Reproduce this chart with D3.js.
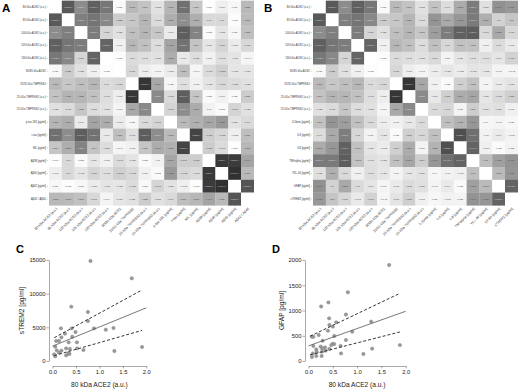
<!DOCTYPE html>
<html>
<head>
<meta charset="utf-8">
<script src="https://cdn.jsdelivr.net/npm/d3@7"></script>
<style>
  body { margin: 0; background: #fff; }
  svg { display: block; font-family: "Liberation Sans", Arial, sans-serif; }
</style>
</head>
<body>
<svg id="fig" width="520" height="390"></svg>
<script>
// labels shared by both matrices
const markerLabels = ["80 kDa ACE2 (a.u.)", "85 kDa ACE2 (a.u.)", "100 kDa ACE2 (a.u.)", "105 kDa ACE2 (a.u.)",
  "130 kDa ACE2 (a.u.)", "80/85 kDa ACE2", "25/55 kDa TMPRSS2", "25 kDa TMPRSS2 (a.u.)", "55 kDa TMPRSS2 (a.u.)"];
const csfLabels = ["p-tau 181 [pg/ml]", "t-tau [pg/ml]", "NfL [pg/ml]", "Aβ38 [pg/ml]", "Aβ40 [pg/ml]", "Aβ42 [pg/ml]", "Aβ42 / Aβ40"];
const bloodLabels = ["IL1beta [pg/ml]", "IL6 [pg/ml]", "IL8 [pg/ml]", "TNFalpha [pg/ml]", "YKL-40 [pg/ml]", "GFAP [pg/ml]", "sTREM2 [pg/ml]"];

// lower triangles (row i holds correlations with rows 0..i-1)
const markerCorr = [
  [],
  [0.737],
  [0.511, 0.568],
  [0.706, 0.612, 0.581],
  [0.603, 0.529, 0.186, 0.687],
  [0.026, 0.225, 0.132, 0.066, 0.012],
  [0.312, 0.248, 0.286, 0.322, 0.16, 0.178],
  [0.266, 0.329, 0.323, 0.276, 0.148, 0.075, 0.897],
  [0.132, 0.162, 0.255, 0.152, 0.133, 0.048, 0.387, 0.525]
];
const csfVsMarker = [
  [0.327, 0.361, 0.091, 0.403, 0.363, -0.089, 0.038, 0.163, 0.192],
  [0.637, 0.507, 0.714, 0.625, 0.096, 0.286, 0.143, 0.719, 0.507],
  [0.254, 0.362, 0.550, 0.264, 0.153, -0.044, 0.063, 0.256, 0.367],
  [0.007, 0.17, 0.022, 0.111, 0.062, -0.161, -0.121, 0.022, 0.060],
  [-0.069, 0.170, -0.115, 0.188, -0.142, -0.213, -0.173, 0.061, 0.023],
  [0.034, 0.013, 0.036, -0.087, -0.120, -0.113, -0.155, 0.025, 0.192],
  [0.313, 0.308, 0.278, 0.175, -0.044, 0.115, 0.132, 0.225, 0.132]
];
const csfCorr = [
  [],
  [0.308],
  [0.351, 0.831],
  [0.397, -0.216, -0.224],
  [0.453, -0.183, -0.161, 0.88],
  [0.128, -0.073, -0.009, 0.871, 0.914],
  [0.164, 0.289, 0.318, 0.404, 0.311, 0.757]
];
const bloodVsMarker = [
  [0.271, 0.477, 0.429, 0.281, 0.171, -0.079, 0.061, 0.101, 0.164],
  [0.149, 0.377, 0.576, 0.180, 0.054, -0.112, 0.022, 0.215, 0.179],
  [0.373, 0.462, 0.701, 0.275, 0.121, -0.083, 0.209, 0.369, 0.051],
  [0.586, 0.589, 0.721, 0.272, 0.142, -0.118, 0.275, 0.397, 0.224],
  [0.137, 0.357, 0.167, 0.068, 0.148, -0.112, 0.05, 0.112, 0.131],
  [0.490, 0.2, 0.383, 0.160, 0.114, 0.048, 0.093, 0.162, 0.136],
  [0.459, 0.260, 0.178, 0.093, 0.198, -0.043, 0.118, 0.213, 0.068]
];
const bloodCorr = [
  [],
  [0.278],
  [0.338, 0.782],
  [0.464, 0.641, 0.694],
  [0.040, -0.060, -0.066, 0.290],
  [0.048, 0.094, 0.023, 0.421, 0.308],
  [0.036, -0.059, 0.055, 0.479, 0.467, 0.692]
];

// scatter C and D: 80 kDa ACE2 vs sTREM2 / GFAP
const aceC = [0.81, 1.69, 0.40, 0.755, 0.755, 0.18, 0.41, 0.885, 1.137, 1.30, 0.266, 0.49, 0.42, 0.19, 0.08, 0.14,
  0.52, 0.345, 0.058, 0.29, 0.525, 0.37, 0.09, 0.19, 0.66, 1.91, 1.32, 0.14, 0.34, 0.036, 0.29, 0.058, 0.36];
const strem2 = [14850, 12280, 8070, 7280, 5940, 4850, 4850, 4850, 4650, 4900, 4060, 4300, 3610, 3510, 2970, 2970,
  2770, 2770, 2130, 1880, 1880, 1780, 1580, 1530, 1630, 2080, 1480, 1240, 1140, 990, 840, 690, 1040];
const fitC = [[0, 2200], [2.0, 7900]];
const ciUpperC = [[0.036, 3450], [1.91, 10550]];
const ciLowerC = [[0.036, 800], [1.91, 4550]];

const aceD = [1.66, 0.81, 0.41, 0.26, 0.77, 0.425, 0.57, 0.43, 0.5, 0.40, 0.90, 1.29, 0.53, 0.07, 0.10, 0.21, 0.77,
  0.29, 0.5, 0.53, 0.66, 0.10, 0.25, 0.34, 0.28, 0.47, 0.16, 0.17, 0.43, 1.88, 1.31, 0.28, 0.09, 0.16, 0.27, 0.67,
  1.13, 0.07, 0.35];
const gfap = [1900, 1360, 1160, 1080, 920, 845, 765, 713, 680, 600, 580, 780, 495, 480, 480, 515, 415,
  400, 340, 335, 300, 297, 285, 270, 250, 315, 230, 180, 240, 315, 245, 185, 150, 100, 100, 150,
  140, 80, 205];
const fitD = [[0, 300], [2.0, 985]];
const ciUpperD = [[0.03, 490], [1.88, 1340]];
const ciLowerD = [[0.03, 120], [1.88, 575]];

const xTicks = [0, 0.5, 1, 1.5, 2];
const yTicksC = [0, 5000, 10000, 15000];
const yTicksD = [0, 500, 1000, 1500, 2000];

const svg = d3.select("#fig");

function buildMatrix(rowsTop, cross, rowsBottom) {
  const n = rowsTop.length + rowsBottom.length;
  const m = d3.range(n).map(() => d3.range(n).map(() => null));
  rowsTop.forEach((row, i) => row.forEach((v, j) => { m[i][j] = v; m[j][i] = v; }));
  cross.forEach((row, i) => row.forEach((v, j) => { m[9 + i][j] = v; m[j][9 + i] = v; }));
  rowsBottom.forEach((row, i) => row.forEach((v, j) => { m[9 + i][9 + j] = v; m[9 + j][9 + i] = v; }));
  return m;
}

function stars(r) {
  const a = Math.abs(r);
  return a >= 0.58 ? "***" : a >= 0.48 ? "**" : a >= 0.37 ? "*" : "";
}

const fill = d3.scaleLinear().domain([0, 1]).range(["#ffffff", "#1e1e1e"]).clamp(true);
const fmt = d3.format(".3~f");

function drawMatrix(left, labels, matrix, letter, letterX) {
  const n = labels.length;
  const x = d3.scaleBand().domain(d3.range(n)).range([left, left + 204.8]);
  const y = d3.scaleBand().domain(d3.range(n)).range([0.6, 205.4]);
  const g = svg.append("g");

  const cells = [];
  matrix.forEach((row, i) => row.forEach((v, j) => cells.push({ i, j, v })));

  g.selectAll("rect").data(cells).enter().append("rect")
    .attr("x", d => x(d.j))
    .attr("y", d => y(d.i))
    .attr("width", x.bandwidth() + 0.2)
    .attr("height", y.bandwidth() + 0.2)
    .attr("fill", d => d.v === null ? "#fff" : fill(Math.abs(d.v)));

  g.selectAll("text.val").data(cells.filter(d => d.v !== null)).enter().append("text")
    .attr("class", "val")
    .attr("x", d => x(d.j) + x.bandwidth() / 2)
    .attr("y", d => y(d.i) + y.bandwidth() / 2 + 0.8)
    .attr("text-anchor", "middle")
    .attr("font-size", 2.3)
    .attr("fill", d => Math.abs(d.v) > 0.5 ? "#ddd" : "#444")
    .text(d => fmt(d.v) + stars(d.v));

  // row labels + small ticks, rotated column labels below
  labels.forEach((lab, i) => {
    const cy = y(i) + y.bandwidth() / 2;
    g.append("line").attr("x1", left - 2.5).attr("x2", left - 1).attr("y1", cy).attr("y2", cy)
      .attr("stroke", "#666").attr("stroke-width", 0.3);
    g.append("text").attr("x", left - 3.2).attr("y", cy + 0.9)
      .attr("text-anchor", "end").attr("font-size", 2.7).attr("fill", "#333").text(lab);
    const cx = x(i) + x.bandwidth() / 2;
    g.append("text")
      .attr("transform", `translate(${cx + 2},${209}) rotate(-45)`)
      .attr("text-anchor", "end").attr("font-size", 3.5).attr("fill", "#333").text(lab);
  });

  svg.append("text").attr("x", letterX).attr("y", 12)
    .attr("font-size", 11.5).attr("font-weight", "bold").text(letter);
}

drawMatrix(49, markerLabels.concat(csfLabels), buildMatrix(markerCorr, csfVsMarker, csfCorr), "A", 2);
drawMatrix(313, markerLabels.concat(bloodLabels), buildMatrix(markerCorr, bloodVsMarker, bloodCorr), "B", 264);

function drawScatter(opt) {
  const x = d3.scaleLinear().domain([0, 2]).range(opt.xr);
  const y = d3.scaleLinear().domain([0, opt.yMax]).range([361, 260]);
  const g = svg.append("g").attr("font-size", 5.6);

  const xa = g.append("g").attr("transform", "translate(0,366)")
    .call(d3.axisBottom(x).tickValues(xTicks).tickFormat(d3.format(".1f")).tickSize(2.5).tickSizeOuter(0));
  const ya = g.append("g").attr("transform", `translate(${opt.yAxisX},0)`)
    .call(d3.axisLeft(y).tickValues(opt.yTicks).tickFormat(d => d).tickSize(2.5).tickSizeOuter(0));
  [xa, ya].forEach(a => {
    a.attr("font-family", null).attr("font-size", 5.8);
    a.selectAll("path, line").attr("stroke", "#555").attr("stroke-width", 0.5);
    a.selectAll("text").attr("fill", "#222");
  });
  xa.selectAll("text").attr("dy", "0.9em").attr("y", 3);
  ya.selectAll("text").attr("x", -3.5);

  g.selectAll("circle").data(opt.xs).enter().append("circle")
    .attr("cx", d => x(d))
    .attr("cy", (d, i) => y(opt.ys[i]))
    .attr("r", 1.7)
    .attr("fill", "#9a9a9a")
    .attr("stroke", "#7a7a7a")
    .attr("stroke-width", 0.4);

  const line = d3.line().x(d => x(d[0])).y(d => y(d[1]));
  g.append("path").attr("d", line(opt.fit)).attr("fill", "none")
    .attr("stroke", "#555").attr("stroke-width", 0.8);
  [opt.ciUp, opt.ciLo].forEach(ci => {
    g.append("path").attr("d", line(ci)).attr("fill", "none")
      .attr("stroke", "#333").attr("stroke-width", 1).attr("stroke-dasharray", "3,2");
  });

  g.append("text").attr("x", (opt.xr[0] + opt.xr[1]) / 2).attr("y", 386.5)
    .attr("text-anchor", "middle").attr("font-size", 6.6).attr("fill", "#222").text("80 kDa ACE2 (a.u.)");
  g.append("text").attr("transform", `translate(${opt.titleX},310.5) rotate(-90)`)
    .attr("text-anchor", "middle").attr("font-size", 6.6).attr("fill", "#222").text(opt.yTitle);

  svg.append("text").attr("x", opt.letterX).attr("y", 252.5)
    .attr("font-size", 11).attr("font-weight", "bold").text(opt.letter);
}

drawScatter({ xr: [52.5, 146.3], yMax: 15000, yTicks: yTicksC, yAxisX: 49, xs: aceC, ys: strem2,
  fit: fitC, ciUp: ciUpperC, ciLo: ciLowerC, yTitle: "sTREM2 [pg/ml]", titleX: 23.5, letter: "C", letterX: 16 });
drawScatter({ xr: [308.5, 405.7], yMax: 2000, yTicks: yTicksD, yAxisX: 305, xs: aceD, ys: gfap,
  fit: fitD, ciUp: ciUpperD, ciLo: ciLowerD, yTitle: "GFAP [pg/ml]", titleX: 283.5, letter: "D", letterX: 272 });
</script>
</body>
</html>
